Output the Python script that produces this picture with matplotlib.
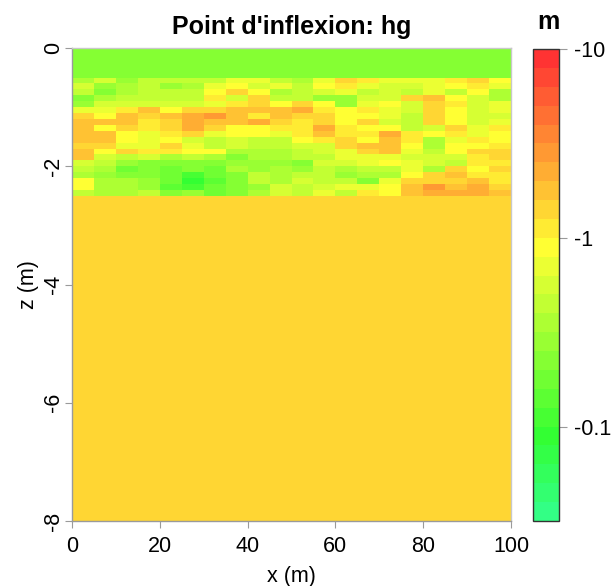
import numpy as np
import matplotlib
matplotlib.use("Agg")
import matplotlib.pyplot as plt
from matplotlib.colors import ListedColormap, LogNorm, hsv_to_rgb

plt.rcParams['font.family'] = ['Liberation Sans', 'DejaVu Sans']

# ---- data ----
x_edges = [0, 5, 10, 15, 20, 25, 30, 35, 40, 45, 50, 55, 60, 65, 70, 75, 80, 85, 90, 95, 100]
z_edges = [0, -0.5, -0.6, -0.7, -0.8, -0.9, -1.0, -1.1, -1.2, -1.3, -1.4, -1.5,
           -1.6, -1.7, -1.8, -1.9, -2.0, -2.1, -2.2, -2.3, -2.4, -2.5, -8]

top_layer = -0.22     # 0 to -0.5 m
bottom_layer = -1.41  # -2.5 to -8 m

hg_rows = [
    [-0.35, -0.56, -0.28, -0.45, -0.45, -0.45, -0.45, -0.71, -0.71, -0.45, -0.35, -0.71, -1.41, -1.12, -0.71, -0.71, -0.71, -1.12, -1.41, -0.89],
    [-0.56, -0.28, -0.35, -0.45, -0.28, -0.35, -0.71, -0.89, -0.56, -0.71, -0.45, -0.89, -1.12, -0.71, -0.56, -0.56, -0.71, -0.89, -1.12, -0.71],
    [-0.45, -0.22, -0.35, -0.45, -0.45, -0.45, -0.89, -1.41, -0.89, -0.35, -0.45, -0.56, -0.71, -0.45, -0.56, -0.45, -0.71, -0.45, -0.89, -0.35],
    [-0.22, -0.35, -0.45, -0.45, -0.45, -0.45, -1.12, -0.56, -1.41, -0.45, -0.45, -0.28, -0.28, -0.56, -0.56, -1.41, -1.78, -0.89, -0.56, -0.35],
    [-0.28, -0.56, -0.56, -0.56, -0.56, -0.56, -0.71, -1.12, -1.41, -0.89, -1.41, -0.89, -0.28, -0.71, -0.89, -0.56, -1.41, -1.12, -0.56, -0.71],
    [-0.71, -0.71, -1.12, -1.78, -0.89, -1.41, -1.41, -1.78, -1.78, -1.78, -2.24, -1.12, -0.89, -1.12, -0.71, -0.56, -1.41, -0.89, -0.56, -0.71],
    [-1.41, -0.89, -1.78, -1.41, -1.78, -2.24, -2.82, -1.78, -1.12, -1.78, -1.41, -1.41, -0.89, -0.89, -0.71, -0.45, -1.41, -0.89, -0.56, -0.56],
    [-1.78, -1.78, -1.78, -1.12, -1.41, -2.24, -1.78, -1.78, -2.24, -1.41, -1.12, -1.41, -0.89, -1.41, -0.56, -0.45, -1.41, -0.89, -0.56, -0.71],
    [-1.78, -0.89, -1.41, -1.12, -1.41, -2.24, -1.41, -0.89, -0.89, -1.12, -1.12, -2.24, -1.12, -0.89, -0.89, -0.45, -0.56, -1.41, -0.71, -1.12],
    [-1.78, -1.78, -0.89, -0.71, -1.12, -1.41, -0.71, -0.89, -0.89, -0.71, -1.12, -1.78, -1.12, -1.12, -2.24, -1.12, -0.89, -1.12, -0.71, -0.89],
    [-1.78, -1.78, -0.89, -0.71, -0.89, -0.56, -0.45, -0.56, -0.45, -0.45, -0.89, -1.12, -1.41, -0.89, -1.78, -1.12, -0.35, -0.71, -1.12, -0.89],
    [-1.41, -1.41, -0.71, -0.71, -1.41, -0.71, -0.45, -0.56, -0.45, -0.45, -0.56, -0.56, -1.41, -1.78, -1.78, -0.89, -0.35, -0.89, -0.89, -1.12],
    [-1.78, -0.89, -1.41, -1.12, -1.12, -0.89, -0.89, -0.35, -0.35, -0.35, -0.45, -0.56, -0.71, -1.41, -1.78, -0.71, -0.45, -0.89, -1.41, -1.41],
    [-1.78, -0.56, -0.45, -0.56, -0.35, -0.45, -0.35, -0.22, -0.35, -0.35, -0.45, -0.45, -0.71, -0.71, -0.71, -0.56, -0.56, -0.56, -1.12, -1.41],
    [-0.56, -0.45, -0.28, -0.22, -0.22, -0.22, -0.22, -0.28, -0.28, -0.28, -0.22, -0.56, -0.56, -0.71, -0.89, -0.71, -0.56, -0.45, -1.12, -1.12],
    [-0.45, -0.35, -0.18, -0.22, -0.18, -0.22, -0.18, -0.35, -0.28, -0.35, -0.28, -0.45, -0.35, -0.45, -0.45, -0.71, -0.35, -1.41, -0.89, -1.41],
    [-0.35, -0.28, -0.22, -0.22, -0.18, -0.11, -0.18, -0.22, -0.45, -0.35, -0.45, -0.45, -0.28, -0.35, -0.35, -0.89, -1.41, -1.78, -1.12, -1.12],
    [-0.89, -0.35, -0.35, -0.28, -0.18, -0.09, -0.14, -0.22, -0.45, -0.35, -0.56, -0.45, -0.45, -0.22, -0.71, -1.41, -1.41, -1.41, -1.78, -1.12],
    [-0.89, -0.35, -0.35, -0.28, -0.14, -0.11, -0.18, -0.22, -0.28, -0.56, -0.45, -0.56, -0.71, -0.71, -0.89, -1.78, -2.82, -1.78, -2.24, -1.41],
    [-0.45, -0.35, -0.35, -0.45, -0.22, -0.28, -0.18, -0.22, -0.35, -0.56, -0.45, -0.71, -0.45, -1.12, -0.89, -1.78, -2.24, -2.24, -2.24, -1.78],
]

cbar_ticks = [0.1, 1, 10]
cbar_labels = ['-0.1', '-1', '-10']
x_ticks = [0, 20, 40, 60, 80, 100]
z_ticks = [0, -2, -4, -6, -8]

# ---- colormap: 25 bands, hue 144 deg -> 0 deg ----
n_bands = 25
hues = np.linspace(144, 0, n_bands) / 360.0
cols = hsv_to_rgb(np.column_stack([hues, np.full(n_bands, 0.8), np.ones(n_bands)]))
cmap = ListedColormap(cols)
norm = LogNorm(vmin=10 ** -1.5, vmax=10)

n_x = len(x_edges) - 1
grid = np.vstack([np.full(n_x, top_layer), np.array(hg_rows), np.full(n_x, bottom_layer)])

W, H = 614, 586
fig = plt.figure(figsize=(W / 100, H / 100), dpi=100)
ax = fig.add_axes([72 / W, 1 - 521 / H, 439 / W, 473 / H])
ax.pcolormesh(x_edges, z_edges, np.abs(grid), cmap=cmap, norm=norm, shading='flat')
ax.set_xlim(0, 100)
ax.set_ylim(-8, 0)

gray = '#9a9a9a'
for s in ax.spines.values():
    s.set_color('#c8c8c8')
    s.set_linewidth(1.0)
ax.spines['left'].set_color(gray)
ax.spines['bottom'].set_color(gray)
ax.set_xticks(x_ticks)
ax.set_xticklabels([str(v) for v in x_ticks])
ax.set_yticks(z_ticks)
ax.set_yticklabels([str(v) for v in z_ticks], rotation=90, va='center')
ax.tick_params(axis='both', direction='out', length=5, color=gray, labelsize=15.5)
ax.tick_params(axis='x', pad=6)
ax.tick_params(axis='y', pad=1)
ax.set_xlabel('x (m)', fontsize=15.5, labelpad=6)
ax.set_ylabel('z (m)', fontsize=15.5, labelpad=3)
ax.set_title("Point d'inflexion: hg", fontsize=18, fontweight='bold', pad=10)

cax = fig.add_axes([533 / W, 1 - 521 / H, 26 / W, 472 / H])
sm = matplotlib.cm.ScalarMappable(norm=norm, cmap=cmap)
cb = fig.colorbar(sm, cax=cax)
cb.set_ticks(cbar_ticks)
cb.set_ticklabels(cbar_labels)
cb.minorticks_off()
cb.outline.set_edgecolor('#333333')
cb.outline.set_linewidth(1.0)
cax.tick_params(axis='y', direction='out', length=6, color=gray, labelsize=15.5, pad=5)
fig.text(548 / W, 1 - 22 / H, 'm', ha='center', va='center', fontsize=18, fontweight='bold')

fig.savefig('out.png', dpi=100)
